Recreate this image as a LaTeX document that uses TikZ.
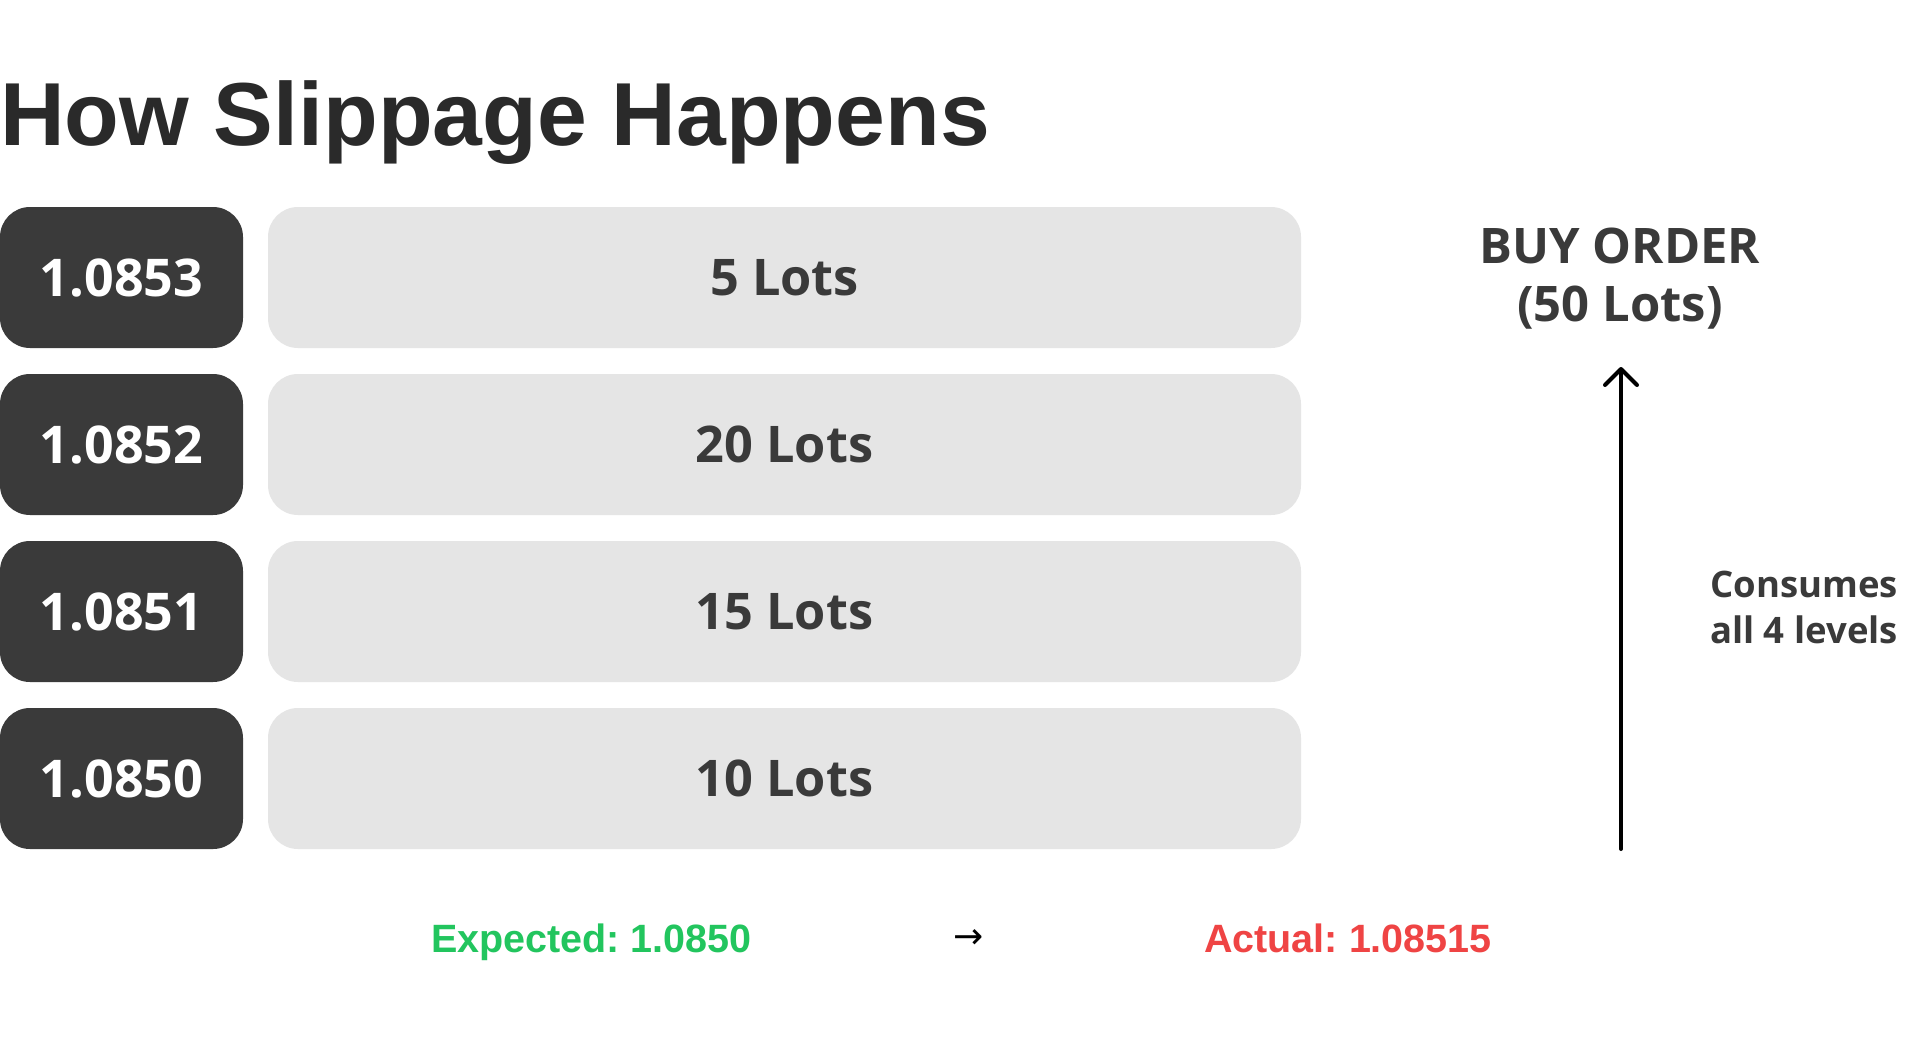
\documentclass[tikz,border=0pt]{standalone}
\usepackage{fontspec}
\setmainfont{Open Sans}
\newfontfamily\arialf{Liberation Sans}
\newfontfamily\dejavuf{DejaVu Sans}
\usetikzlibrary{arrows.meta}
\definecolor{darkbox}{HTML}{3A3A3A}
\definecolor{greybox}{HTML}{E5E5E5}
\definecolor{inktext}{HTML}{3A3A3A}
\definecolor{titleink}{HTML}{2A2A2A}
\definecolor{okgreen}{HTML}{22C55E}
\definecolor{badred}{HTML}{EF4444}
\frenchspacing
\begin{document}
\begin{tikzpicture}[x=1pt,y=-1pt,
  pricebox/.style={fill=darkbox, rounded corners=30pt, minimum width=243pt, minimum height=141pt,
    inner sep=0pt, text=white, font=\fontsize{52}{52}\selectfont\bfseries},
  lotbox/.style={fill=greybox, rounded corners=30pt, minimum width=1033pt, minimum height=141pt,
    inner sep=0pt, text=inktext, font=\fontsize{50.5}{50.5}\selectfont\bfseries},
  sidelabel/.style={inner sep=0pt, align=center, text=inktext},
  bottomlabel/.style={inner sep=0pt, anchor=base west, font=\arialf\fontsize{39.5}{39.5}\selectfont\bfseries}
]
\useasboundingbox (0,0) rectangle (1920,1058);
\fill[white] (0,0) rectangle (1920,1058);

\node[inner sep=0pt, anchor=base west, text=titleink, font=\arialf\fontsize{89.5}{89.5}\selectfont\bfseries]
  (title) at (0,145) {How Slippage Happens};

\node[pricebox] (p1) at (121.5,277.5) {1.0853};
\node[pricebox] (p2) at (121.5,444.5) {1.0852};
\node[pricebox] (p3) at (121.5,611.5) {1.0851};
\node[pricebox] (p4) at (121.5,778.5) {1.0850};

\node[lotbox] (l1) at (784.5,277.5) {5 Lots};
\node[lotbox] (l2) at (784.5,444.5) {20 Lots};
\node[lotbox] (l3) at (784.5,611.5) {15 Lots};
\node[lotbox] (l4) at (784.5,778.5) {10 Lots};

\node[sidelabel, anchor=north, font=\fontsize{49}{58}\selectfont\bfseries] (buy) at (1620,228)
  {BUY ORDER\\(50 Lots)};
\node[sidelabel, anchor=north, font=\fontsize{36.5}{46}\selectfont\bfseries] (cons) at (1804,571)
  {Consumes\\all 4 levels};

\coordinate (abot) at (1621,849);
\coordinate (atop) at (1621,367);
\draw[line width=4pt, line cap=round, -{Straight Barb[length=16pt,width=32pt,round]}] (abot) -- (atop);

\node[bottomlabel, text=okgreen] (expd) at (431,952) {Expected: 1.0850};
\node[inner sep=0pt, anchor=base, font=\dejavuf\fontsize{36}{36}\selectfont] (arr) at (969,948) {→};
\node[bottomlabel, text=badred] (actl) at (1204,952) {Actual: 1.08515};
\end{tikzpicture}
\end{document}
